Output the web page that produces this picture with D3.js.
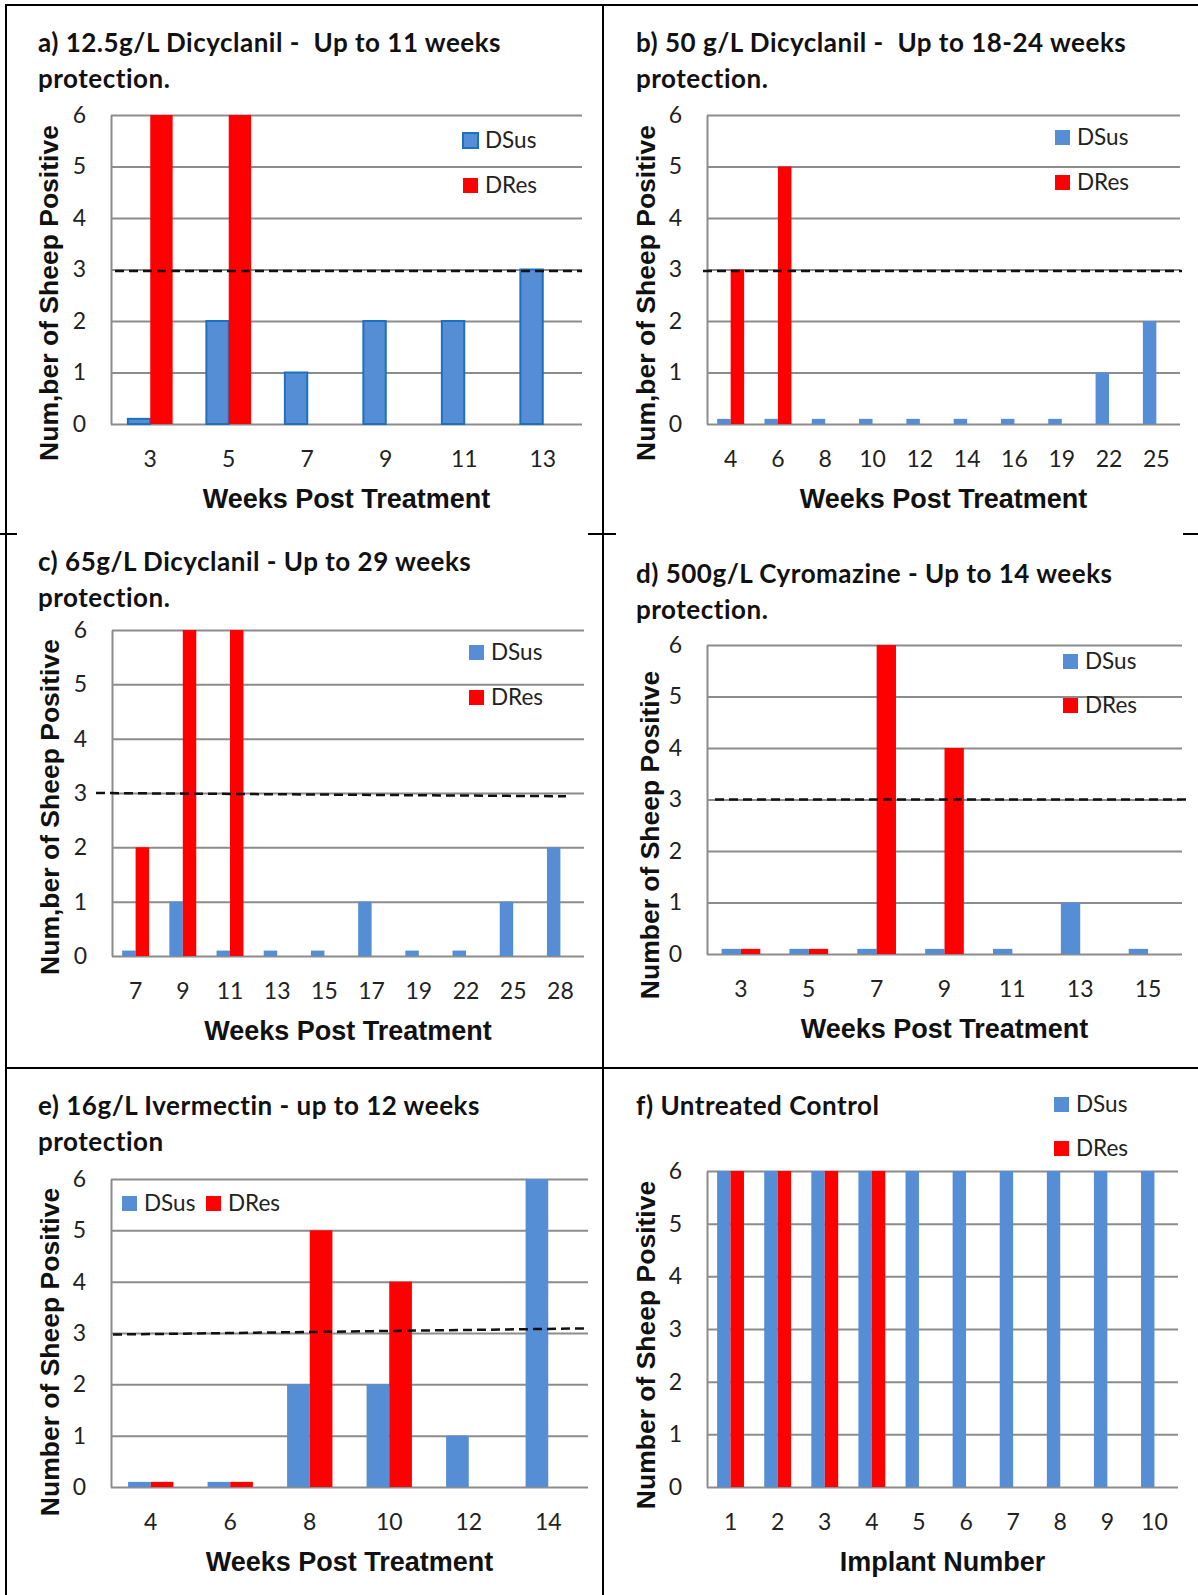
<!DOCTYPE html>
<html><head>
<meta charset="utf-8">
<title>Sheep positive - weeks post treatment</title>
<script src="https://d3js.org/d3.v7.min.js"></script>
<style>
  body { margin: 0; background: #fff; }
  .title { font-family: Lato, sans-serif; font-weight: 700; font-size: 26px; letter-spacing: 0.5px; white-space: pre; fill: #111; }
  .tick text { font-family: Lato, sans-serif; font-size: 23px; fill: #222; }
  .grid line, .grid .domain { stroke: #8c8c8c; stroke-width: 2; }
  .axis-title { font-family: "Liberation Sans", Arial, sans-serif; font-weight: 700; font-size: 27px; fill: #111; }
  .legend text { font-family: Lato, sans-serif; font-size: 22.5px; fill: #222; }
  .frame line { stroke: #000; stroke-width: 2; }
</style>
</head>
<body>
<svg id="chart" width="1198" height="1595"></svg>
<script>

  // ---- data (0.1 = the little stub Excel drew for a zero)
  const seriesNames = ["DSus", "DRes"];
  const seriesColors = ["#558ed5", "#ff0000"];
  const yTicks = [0, 1, 2, 3, 4, 5, 6];

  // a) 12.5g/L Dicyclanil
  const weeksA = ["3", "5", "7", "9", "11", "13"];
  const dsusA  = [0.1, 2, 1, 2, 2, 3];
  const dresA  = [6, 6, 0, 0, 0, 0];
  const cutoffA = [2.97, 2.97];

  // b) 50 g/L Dicyclanil
  const weeksB = ["4", "6", "8", "10", "12", "14", "16", "19", "22", "25"];
  const dsusB  = [0.1, 0.1, 0.1, 0.1, 0.1, 0.1, 0.1, 0.1, 1, 2];
  const dresB  = [3, 5, 0, 0, 0, 0, 0, 0, 0, 0];
  const cutoffB = [2.97, 2.97];

  // c) 65g/L Dicyclanil
  const weeksC = ["7", "9", "11", "13", "15", "17", "19", "22", "25", "28"];
  const dsusC  = [0.1, 1, 0.1, 0.1, 0.1, 1, 0.1, 0.1, 1, 2];
  const dresC  = [2, 6, 6, 0, 0, 0, 0, 0, 0, 0];
  const cutoffC = [3.0, 2.94];

  // d) 500g/L Cyromazine
  const weeksD = ["3", "5", "7", "9", "11", "13", "15"];
  const dsusD  = [0.1, 0.1, 0.1, 0.1, 0.1, 1, 0.1];
  const dresD  = [0.1, 0.1, 6, 4, 0, 0, 0];
  const cutoffD = [3.0, 3.0];

  // e) 16g/L Ivermectin
  const weeksE = ["4", "6", "8", "10", "12", "14"];
  const dsusE  = [0.1, 0.1, 2, 2, 1, 6];
  const dresE  = [0.1, 0.1, 5, 4, 0, 0];
  const cutoffE = [2.97, 3.09];

  // f) Untreated control
  const implants = ["1", "2", "3", "4", "5", "6", "7", "8", "9", "10"];
  const dsusF  = [6, 6, 6, 6, 6, 6, 6, 6, 6, 6];
  const dresF  = [6, 6, 6, 6, 0, 0, 0, 0, 0, 0];

  // ---- layout of the six panels (pixels)
  const panels = [
    { title: ["a) 12.5g/L Dicyclanil -  Up to 11 weeks", "protection."], tx: 38, ty: 52,
      cats: weeksA, dsus: dsusA, dres: dresA, cutoff: cutoffA, cutoffPad: [4, 0],
      box: {left: 111, right: 582, top: 115, bottom: 424}, outlined: true,
      yLabel: "Num,ber of Sheep Positive", yl: [58, 293], xLabel: "Weeks Post Treatment",
      legend: {x: 463, y: 140, gap: 45} },
    { title: ["b) 50 g/L Dicyclanil -  Up to 18-24 weeks", "protection."], tx: 636, ty: 52,
      cats: weeksB, dsus: dsusB, dres: dresB, cutoff: cutoffB, cutoffPad: [-4, 2],
      box: {left: 707, right: 1180, top: 115, bottom: 424},
      yLabel: "Num,ber of Sheep Positive", yl: [655, 293], xLabel: "Weeks Post Treatment",
      legend: {x: 1055, y: 137, gap: 45} },
    { title: ["c) 65g/L Dicyclanil - Up to 29 weeks", "protection."], tx: 38, ty: 571,
      cats: weeksC, dsus: dsusC, dres: dresC, cutoff: cutoffC, cutoffPad: [-16, -18],
      box: {left: 112, right: 584, top: 630, bottom: 956},
      yLabel: "Num,ber of Sheep Positive", yl: [59, 807], xLabel: "Weeks Post Treatment",
      legend: {x: 469, y: 652, gap: 45} },
    { title: ["d) 500g/L Cyromazine - Up to 14 weeks", "protection."], tx: 636, ty: 583,
      cats: weeksD, dsus: dsusD, dres: dresD, cutoff: cutoffD, cutoffPad: [8, 5],
      box: {left: 707, right: 1182, top: 645, bottom: 954},
      yLabel: "Number of Sheep Positive", yl: [659, 835], xLabel: "Weeks Post Treatment",
      legend: {x: 1063, y: 661, gap: 44} },
    { title: ["e) 16g/L Ivermectin - up to 12 weeks", "protection"], tx: 38, ty: 1115,
      cats: weeksE, dsus: dsusE, dres: dresE, cutoff: cutoffE, cutoffPad: [2, 0],
      box: {left: 111, right: 588, top: 1179, bottom: 1487},
      yLabel: "Number of Sheep Positive", yl: [59, 1352], xLabel: "Weeks Post Treatment",
      legend: {x: 122, y: 1203, gap: 84, horizontal: true} },
    { title: ["f) Untreated Control"], tx: 636, ty: 1115,
      cats: implants, dsus: dsusF, dres: dresF, cutoff: null,
      box: {left: 707, right: 1178, top: 1171, bottom: 1487},
      yLabel: "Number of Sheep Positive", yl: [655, 1345], xLabel: "Implant Number",
      legend: {x: 1054, y: 1104, gap: 44} }
  ];

  const svg = d3.select( "svg#chart" );

  // frame lines like the table the figure was pasted into
  const frame = svg.append( "g" ).attr( "class", "frame" );
  [ [5, 5, 1198, 5], [6, 5, 6, 1595], [603, 5, 603, 1595], [6, 1068, 1198, 1068],
    [0, 534, 17, 534], [588, 534, 616, 534], [1183, 534, 1198, 534] ].forEach( l => {
      frame.append( "line" ).attr( "x1", l[0] ).attr( "y1", l[1] ).attr( "x2", l[2] ).attr( "y2", l[3] );
  });

  panels.forEach( p => drawPanel( p ) );

  function drawPanel( p ) {
    const b = p.box;
    const g = svg.append( "g" );

    // title (one or two lines)
    p.title.forEach( (t, i) => {
      g.append( "text" ).attr( "class", "title" )
        .attr( "x", p.tx ).attr( "y", p.ty + i * 36 )
        .text( t );
    });

    // scales
    const x = d3.scaleBand().domain( p.cats ).range( [b.left, b.right] );
    const xSub = d3.scaleBand().domain( seriesNames ).range( [0, x.bandwidth()] ).paddingOuter( 0.754 );
    const y = d3.scaleLinear().domain( [0, 6] ).range( [b.bottom, b.top] );

    // gridlines + y tick labels in one axis
    const yAxis = d3.axisLeft( y ).tickValues( yTicks ).tickSize( -(b.right - b.left) )
                    .tickSizeOuter( 0 ).tickPadding( 25 ).tickFormat( d3.format( "d" ) );
    g.append( "g" ).attr( "class", "grid" )
      .attr( "transform", "translate(" + b.left + ",0)" )
      .call( yAxis );

    // x tick labels, no tick marks
    const xAxis = d3.axisBottom( x ).tickSize( 0 );
    const xg = g.append( "g" ).attr( "transform", "translate(0," + b.bottom + ")" ).call( xAxis );
    xg.select( ".domain" ).remove();
    xg.selectAll( "text" ).attr( "y", 43 ).attr( "dy", 0 );

    // bars
    const rows = p.cats.map( (c, i) => ({ cat: c, vals: [p.dsus[i], p.dres[i]] }) );
    rows.forEach( r => {
      r.vals.forEach( (v, s) => {
        if ( v <= 0 ) return;
        const rect = g.append( "rect" )
          .attr( "x", x( r.cat ) + xSub( seriesNames[s] ) )
          .attr( "y", y( v ) )
          .attr( "width", xSub.bandwidth() )
          .attr( "height", y( 0 ) - y( v ) )
          .attr( "fill", seriesColors[s] );
        if ( p.outlined && s == 0 ) {
          rect.attr( "stroke", "#1f6fbf" ).attr( "stroke-width", 2 );
        }
      });
    });

    // the 3-sheep cut off line
    if ( p.cutoff ) {
      g.append( "line" )
        .attr( "x1", b.left + p.cutoffPad[0] ).attr( "y1", y( p.cutoff[0] ) )
        .attr( "x2", b.right + p.cutoffPad[1] ).attr( "y2", y( p.cutoff[1] ) )
        .attr( "stroke", "#111" ).attr( "stroke-width", 2.5 ).attr( "stroke-dasharray", "9,5" );
    }

    // axis titles
    g.append( "text" ).attr( "class", "axis-title" )
      .attr( "text-anchor", "middle" )
      .attr( "x", (b.left + b.right) / 2 ).attr( "y", b.bottom + 84 )
      .text( p.xLabel );
    g.append( "text" ).attr( "class", "axis-title" )
      .attr( "text-anchor", "middle" ).style( "font-size", "26.5px" )
      .attr( "transform", "translate(" + p.yl[0] + "," + p.yl[1] + ") rotate(-90)" )
      .text( p.yLabel );

    // legend
    const lg = g.append( "g" ).attr( "class", "legend" );
    seriesNames.forEach( (name, s) => {
      const lx = p.legend.horizontal ? p.legend.x + s * p.legend.gap : p.legend.x;
      const ly = p.legend.horizontal ? p.legend.y : p.legend.y + s * p.legend.gap;
      const sq = lg.append( "rect" )
        .attr( "x", lx ).attr( "y", ly - 7 )
        .attr( "width", 15 ).attr( "height", 15 )
        .attr( "fill", seriesColors[s] );
      if ( p.outlined && s == 0 ) {
        sq.attr( "stroke", "#1f6fbf" ).attr( "stroke-width", 2 );
      }
      lg.append( "text" )
        .attr( "x", lx + 22 ).attr( "y", ly ).attr( "dy", "0.35em" )
        .text( name );
    });
  }

</script>
</body>
</html>
